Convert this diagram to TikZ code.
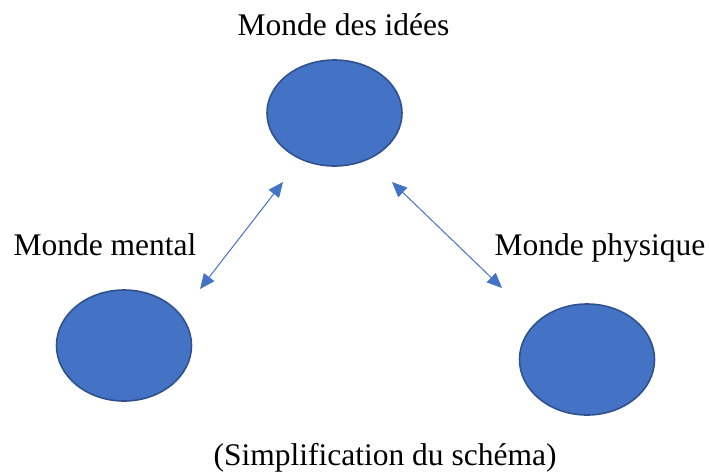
\documentclass[tikz,border=0pt]{standalone}
\usepackage{fontspec}
\setmainfont{Liberation Serif}
\usetikzlibrary{shapes.geometric,arrows.meta}
\definecolor{blobfill}{HTML}{4472C4}
\definecolor{blobline}{HTML}{2F528F}

\begin{document}
\begin{tikzpicture}[x=1pt,y=-1pt,
        blob/.style={ellipse, fill=blobfill, draw=blobline, line width=1.6pt,
            minimum width=135pt, minimum height=106pt, inner sep=0pt},
        worldlabel/.style={anchor=base, inner sep=0pt, font=\fontsize{31.5}{36}\selectfont},
        link/.style={blobfill, line width=1pt,
            {Triangle[length=15pt,width=13pt]}-{Triangle[length=15pt,width=13pt]}}]
        % frame of the picture
        \useasboundingbox (0,0) rectangle (709,472);

        % the three worlds
        \node[blob] (idees) at (334.5,113) {};
        \node[blob, minimum height=111pt] (mental) at (124,345.5) {};
        \node[blob, minimum height=111pt] (physique) at (587,359.5) {};

        % labels of the worlds
        \node[worldlabel] (lidees) at (343.5,35) {Monde des idées};
        \node[worldlabel] (lmental) at (105,255) {Monde mental};
        \node[worldlabel] (lphysique) at (600,255) {Monde physique};

        % caption
        \node[worldlabel] (caption) at (385,465) {(Simplification du schéma)};

        % ends of the links
        \coordinate (a1) at (283,182);
        \coordinate (a2) at (200,289);
        \coordinate (b1) at (392,182);
        \coordinate (b2) at (502,288);

        %draw the links
        \draw[link] (a1) -- (a2);
        \draw[link] (b1) -- (b2);
    \end{tikzpicture}
\end{document}
